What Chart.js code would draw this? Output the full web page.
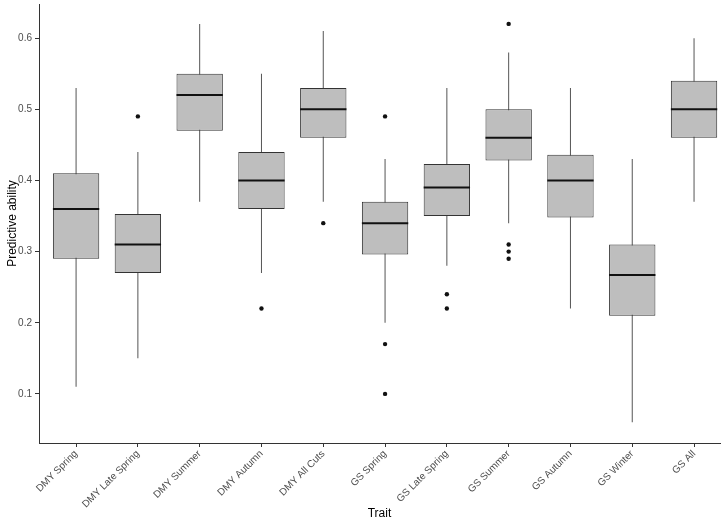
<!DOCTYPE html>
<html>
<head>
<meta charset="utf-8">
<script src="https://cdn.jsdelivr.net/npm/chart.js@4/dist/chart.umd.min.js"></script>
<style>
  body { margin: 0; background: #fff; }
  canvas { display: block; }
</style>
</head>
<body>
<canvas id="trait-chart" width="724" height="527"></canvas>
<script>
// Box plot of predictive ability per trait, built from floating bars

const categories = ['DMY Spring', 'DMY Late Spring', 'DMY Summer', 'DMY Autumn', 'DMY All Cuts',
  'GS Spring', 'GS Late Spring', 'GS Summer', 'GS Autumn', 'GS Winter', 'GS All'];
const whiskerLow  = [0.11, 0.15, 0.37, 0.27, 0.37, 0.20, 0.28, 0.34, 0.22, 0.06, 0.37];
const q1          = [0.29, 0.27, 0.47, 0.36, 0.46, 0.296, 0.35, 0.428, 0.348, 0.21, 0.46];
const medians     = [0.36, 0.31, 0.52, 0.40, 0.50, 0.34, 0.39, 0.46, 0.40, 0.267, 0.50];
const q3          = [0.41, 0.353, 0.55, 0.44, 0.53, 0.37, 0.423, 0.50, 0.436, 0.31, 0.54];
const whiskerHigh = [0.53, 0.44, 0.62, 0.55, 0.61, 0.43, 0.53, 0.58, 0.53, 0.43, 0.60];
const outliers = [[], [0.49], [], [0.22], [0.34], [0.49, 0.17, 0.10], [0.24, 0.22],
  [0.62, 0.31, 0.30, 0.29], [], [], []];
const yTicks = [0.1, 0.2, 0.3, 0.4, 0.5, 0.6];

const BOX_WIDTH = 0.75;
const tickFont = { family: 'Liberation Sans, Arial, sans-serif', size: 10 };
const titleFont = { family: 'Liberation Sans, Arial, sans-serif', size: 12 };

const pos = categories.map((c, i) => i + 1);

const outlierPoints = [];
outliers.forEach((list, i) => {
  list.forEach(v => outlierPoints.push({ x: pos[i], y: v }));
});

const chart = new Chart(document.getElementById('trait-chart'), {
  type: 'bar',
  data: {
    datasets: [
      {
        type: 'scatter',
        data: outlierPoints,
        pointRadius: 2.2,
        pointBackgroundColor: '#111',
        pointBorderColor: '#111',
        pointBorderWidth: 0,
        showLine: false
      },
      {
        type: 'scatter',
        data: pos.map((x, i) => ({ x: x, y: medians[i] })),
        pointStyle: 'line',
        pointRadius: ctx => {
          const xs = ctx.chart.scales.x;
          return Math.abs(xs.getPixelForValue(1) - xs.getPixelForValue(0)) * BOX_WIDTH / 2;
        },
        pointBorderColor: '#111',
        pointBorderWidth: 2,
        showLine: false
      },
      {
        data: pos.map((x, i) => ({ x: x, y: [q1[i], q3[i]] })),
        backgroundColor: '#bebebe',
        borderColor: '#333',
        borderWidth: 1,
        borderSkipped: false,
        grouped: false,
        categoryPercentage: 1,
        barPercentage: BOX_WIDTH
      },
      {
        data: pos.map((x, i) => ({ x: x, y: [whiskerLow[i], whiskerHigh[i]] })),
        backgroundColor: '#555',
        borderWidth: 0,
        grouped: false,
        maxBarThickness: 1
      }
    ]
  },
  options: {
    responsive: false,
    animation: false,
    layout: { padding: { top: 4, right: 0, bottom: 0, left: 0 } },
    plugins: {
      legend: { display: false },
      tooltip: { enabled: false }
    },
    scales: {
      x: {
        type: 'linear',
        offset: false,
        min: 0.4,
        max: 11.42,
        afterBuildTicks: scale => { scale.ticks = pos.map(v => ({ value: v })); },
        afterFit: scale => {
          scale.height = 84;
          scale.paddingLeft = 0;
          scale.paddingRight = 0;
        },
        ticks: {
          autoSkip: false,
          minRotation: 45,
          maxRotation: 45,
          padding: 1,
          color: '#4d4d4d',
          font: tickFont,
          callback: v => categories[v - 1] || ''
        },
        grid: { offset: false, drawOnChartArea: false, drawTicks: true, tickLength: 4, color: '#333' },
        border: { display: true, color: '#333', width: 1 },
        title: { display: true, text: 'Trait', color: '#000', font: titleFont, padding: { top: 2, bottom: 6 } }
      },
      y: {
        min: 0.031,
        max: 0.648,
        afterBuildTicks: scale => { scale.ticks = yTicks.map(v => ({ value: v })); },
        afterFit: scale => {
          scale.width = 39;
          scale.paddingTop = 0;
          scale.paddingBottom = 0;
        },
        ticks: {
          padding: 3,
          color: '#4d4d4d',
          font: tickFont,
          callback: v => v.toFixed(1)
        },
        grid: { drawOnChartArea: false, drawTicks: true, tickLength: 4, color: '#333' },
        border: { display: true, color: '#333', width: 1 },
        title: { display: true, text: 'Predictive ability', color: '#000', font: titleFont, padding: { top: 5, bottom: 2 } }
      }
    }
  }
});
</script>
</body>
</html>
